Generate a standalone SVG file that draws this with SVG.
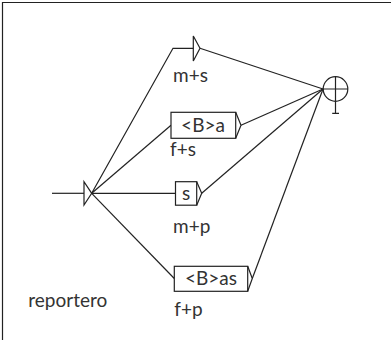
<svg xmlns="http://www.w3.org/2000/svg" width="391" height="340" viewBox="0 0 391 340">
<style>
.ln{fill:none;stroke:#222;stroke-width:1.2}
.bx{fill:#fff;stroke:#222;stroke-width:1.2}
.t{font-family:Lato,"Open Sans",sans-serif;font-size:19px;fill:#333}
</style>
<rect width="391" height="340" fill="#fff"/>
<path d="M2.5,340 V2.5 H391" class="ln"/>
<g id="connectors">
<path class="ln" d="M52,193.3 H84"/>
<path class="ln" d="M91.7,193.3 L173,48.3 H193.3"/>
<path class="ln" d="M91.7,193.3 L171,125.3"/>
<path class="ln" d="M91.7,193.3 H176"/>
<path class="ln" d="M91.7,193.3 L174.3,278.5"/>
<path class="ln" d="M200,48.3 L323,89"/>
<path class="ln" d="M241,125.3 L323,89"/>
<path class="ln" d="M201.7,193.3 L323,89"/>
<path class="ln" d="M252.3,278.5 L323,89"/>
</g>
<g id="initial">
<path class="ln" d="M84,181.7 V205 L91.7,193.3 Z"/>
<text class="t" x="28.3" y="306.5">reportero</text>
</g>
<g id="n-ms">
<path class="ln" d="M193.3,36 V61 L200,48.3 Z"/>
<text class="t" x="173" y="81.5">m+s</text>
</g>
<g id="n-fs">
<rect class="bx" x="171" y="112.3" width="64.7" height="26"/>
<path class="ln" d="M235.7,112.3 L241,125.3 L235.7,138.3"/>
<text class="t" x="203" y="132" text-anchor="middle">&lt;B&gt;a</text>
<text class="t" x="170" y="156">f+s</text>
</g>
<g id="n-mp">
<rect class="bx" x="175.5" y="181.7" width="21.2" height="23.5"/>
<path class="ln" d="M196.7,181.7 L201.7,193.3 L196.7,205.2"/>
<text class="t" x="186" y="200" text-anchor="middle">s</text>
<text class="t" x="173" y="233">m+p</text>
</g>
<g id="n-fp">
<rect class="bx" x="174.3" y="266.3" width="73.4" height="25"/>
<path class="ln" d="M247.7,266.3 L252.3,278.5 L247.7,291.3"/>
<text class="t" x="211" y="285" text-anchor="middle">&lt;B&gt;as</text>
<text class="t" x="174.3" y="316">f+p</text>
</g>
<g id="final">
<circle class="ln" cx="335.5" cy="89" r="12.3"/>
<path class="ln" d="M323,89 H348 M335.5,76.7 V113.3 M332.2,113.3 H339"/>
</g>
</svg>
